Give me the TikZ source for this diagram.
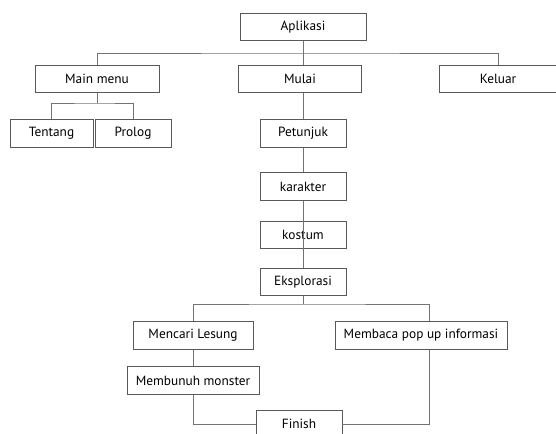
\documentclass[tikz,border=0pt]{standalone}
\usepackage{fontspec}
\setmainfont{PT Sans}
\usetikzlibrary{positioning,calc}

\begin{document}
\begin{tikzpicture}[x=0.75pt, y=-0.75pt,
        box/.style={draw=black!65, line width=0.6pt, inner sep=0pt,
            minimum height=20.5pt, minimum width=#1,
            font=\fontsize{10}{12}\selectfont},
        box/.default=64.5pt,
        link/.style={draw=black!55, line width=0.6pt}]

        \clip (0,0) rectangle (556,433);

        \node[box=94.5pt] (aplikasi) at (303,27) {Aplikasi};

        \node[box=93pt] (mainmenu) at (97,79) {Main menu};
        \node[box=92.25pt] (mulai) at (300,79) {Mulai};
        \node[box=87.75pt] (keluar) at (498,79) {Keluar};

        \node[box=62.25pt] (tentang) at (51.5,133.5) {Tentang};
        \node[box=57pt] (prolog) at (133,133.5) {Prolog};

        \node[box] (petunjuk) at (303,133.5) {Petunjuk};
        \node[box] (karakter) at (303,186.5) {karakter};
        \node[box] (kostum) at (303,235) {kostum};
        \node[box] (eksplorasi) at (303,282) {Eksplorasi};

        \node[box=90pt] (mencari) at (193,335.5) {Mencari Lesung};
        \node[box=129pt] (membaca) at (421,335.5) {Membaca pop up informasi};
        \node[box=99pt] (membunuh) at (193,380.5) {Membunuh monster};
        \node[box] (finish) at (299,424) {Finish};

        \coordinate (topbus) at (303,53);
        \coordinate (menubus) at (97,103);
        \coordinate (lowbus) at (303,304);

        \draw[link] (aplikasi.south) -- (topbus);
        \draw[link] (mainmenu.north) |- (topbus) -| (keluar.north);
        \draw[link] (topbus) -- (topbus |- mulai.north);

        \draw[link] (mainmenu.south) -- (menubus);
        \draw[link] (tentang.north) |- (menubus) -| (prolog.north);

        \draw[link] (mulai.south -| petunjuk.north) -- (petunjuk.north);
        \draw[link] (petunjuk.south) -- (karakter.north);
        \draw[link] (karakter.south) -- (eksplorasi.north);

        \draw[link] (eksplorasi.south) -- (lowbus);
        \draw[link] (mencari.north) |- (lowbus) -| ([xshift=6pt]membaca.north);
        \draw[link] (mencari.south) -- (membunuh.north);
        \draw[link] (membunuh.south) |- (finish.west);
        \draw[link] ([xshift=6pt]membaca.south) |- (finish.east);

    \end{tikzpicture}
\end{document}
